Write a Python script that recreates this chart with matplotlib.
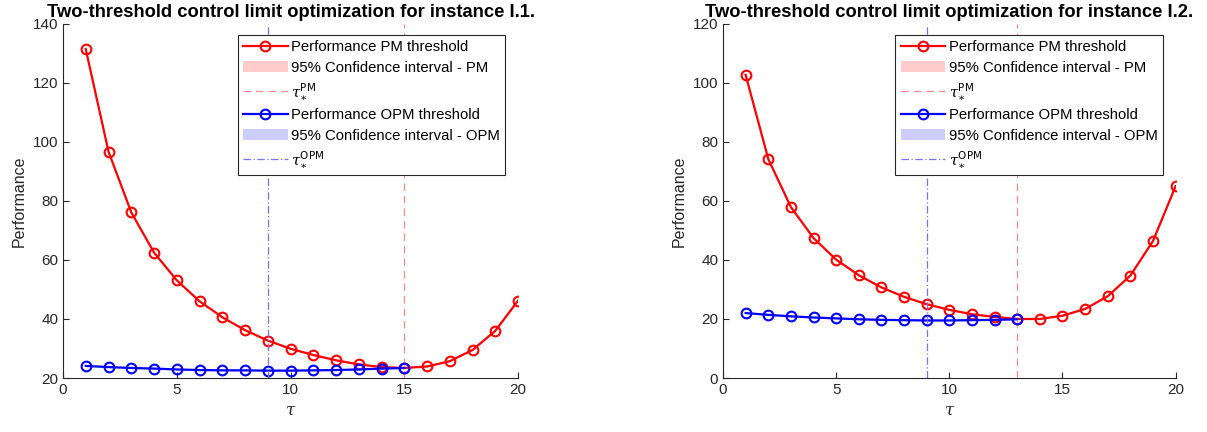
import matplotlib.pyplot as plt
import numpy as np

plt.rcParams['font.family'] = ['Liberation Sans', 'DejaVu Sans']
plt.rcParams['mathtext.fontset'] = 'dejavuserif'
plt.rcParams['mathtext.sf'] = 'Liberation Sans'

# данные
tau = list(range(1, 21))

pm_1 = [131.4, 96.7, 76.1, 62.5, 53.1, 46.0, 40.6, 36.2, 32.7, 29.9,
        27.8, 26.0, 24.6, 23.7, 23.4, 23.9, 25.7, 29.5, 36.0, 46.2]
opm_1 = [24.1, 23.7, 23.4, 23.2, 22.9, 22.7, 22.6, 22.6, 22.5, 22.5,
         22.6, 22.7, 22.9, 23.2, 23.4]
pm_ci_1 = [0.6, 0.5, 0.4, 0.3, 0.3, 0.3, 0.2, 0.2, 0.2, 0.2,
           0.2, 0.2, 0.2, 0.2, 0.2, 0.2, 0.2, 0.2, 0.3, 0.3]
opm_ci_1 = [0.2] * 15
tau_pm_1 = 15
tau_opm_1 = 9

pm_2 = [102.7, 74.2, 57.9, 47.4, 40.1, 34.8, 30.7, 27.5, 25.0, 23.1,
        21.6, 20.7, 20.0, 20.0, 21.1, 23.4, 27.7, 34.7, 46.4, 65.0]
opm_2 = [22.0, 21.4, 20.9, 20.5, 20.2, 19.9, 19.7, 19.6, 19.5, 19.5,
         19.6, 19.7, 19.9]
pm_ci_2 = [0.5, 0.4, 0.3, 0.3, 0.2, 0.2, 0.2, 0.2, 0.2, 0.2,
           0.2, 0.2, 0.2, 0.2, 0.2, 0.2, 0.2, 0.2, 0.3, 0.3]
opm_ci_2 = [0.2] * 13
tau_pm_2 = 13
tau_opm_2 = 9

titles = ['Two-threshold control limit optimization for instance I.1.',
          'Two-threshold control limit optimization for instance I.2.']
ylims = [(20, 140), (0, 120)]

fig = plt.figure(figsize=(12.07, 4.32), dpi=100)
ax1 = fig.add_axes([0.0522, 0.125, 0.377, 0.82])
ax2 = fig.add_axes([0.599, 0.125, 0.375, 0.82])

axc = '#262626'
sets = [(ax1, pm_1, opm_1, pm_ci_1, opm_ci_1, tau_pm_1, tau_opm_1),
        (ax2, pm_2, opm_2, pm_ci_2, opm_ci_2, tau_pm_2, tau_opm_2)]

for i, (ax, pm, opm, pmc, opmc, tp, to) in enumerate(sets):
    x_pm = np.array(tau[:len(pm)])
    x_opm = np.array(tau[:len(opm)])
    pm_a = np.array(pm)
    opm_a = np.array(opm)

    h1, = ax.plot(x_pm, pm_a, color='red', lw=1.6, marker='o', ms=7,
                  mfc='none', mew=1.5, label='Performance PM threshold')
    f1 = ax.fill_between(x_pm, pm_a - np.array(pmc), pm_a + np.array(pmc),
                         color=(1, 0.8, 0.8), lw=0,
                         label='95% Confidence interval - PM')
    v1 = ax.axvline(tp, color=(1, 0.55, 0.55), ls=(0, (6, 4)), lw=0.9,
                    label=r'$\tau_{\ast}^{\mathsf{PM}}$')
    h2, = ax.plot(x_opm, opm_a, color='blue', lw=1.6, marker='o', ms=7,
                  mfc='none', mew=1.5, label='Performance OPM threshold')
    f2 = ax.fill_between(x_opm, opm_a - np.array(opmc), opm_a + np.array(opmc),
                         color=(0.8, 0.8, 1), lw=0,
                         label='95% Confidence interval - OPM')
    v2 = ax.axvline(to, color=(0.45, 0.45, 1), ls=(0, (6, 2, 1, 2)), lw=0.9,
                    label=r'$\tau_{\ast}^{\mathsf{OPM}}$')

    ax.set_xlim(0, 20)
    ax.set_ylim(*ylims[i])
    ax.set_xticks([0, 5, 10, 15, 20])
    ax.set_yticks(np.arange(ylims[i][0], ylims[i][1] + 1, 20))
    ax.spines['top'].set_visible(False)
    ax.spines['right'].set_visible(False)
    for s in ['left', 'bottom']:
        ax.spines[s].set_color(axc)
        ax.spines[s].set_linewidth(0.8)
    ax.tick_params(direction='in', length=4, color=axc, labelcolor=axc,
                   labelsize=11)
    ax.set_xlabel(r'$\tau$', fontsize=12, color=axc)
    ax.set_ylabel('Performance', fontsize=11.5, color=axc)
    ax.set_title(titles[i], fontsize=13.2, fontweight='bold', pad=5)

    leg = ax.legend(handles=[h1, f1, v1, h2, f2, v2], loc='upper right',
                    bbox_to_anchor=(0.972, 0.969),
                    fontsize=10.7, frameon=True, fancybox=False,
                    framealpha=1, edgecolor=axc, handlelength=3.0,
                    handletextpad=0.25, borderaxespad=0, labelspacing=0.45,
                    borderpad=0.35)
    leg.get_frame().set_linewidth(0.8)

fig.savefig('out.png', dpi=100)
